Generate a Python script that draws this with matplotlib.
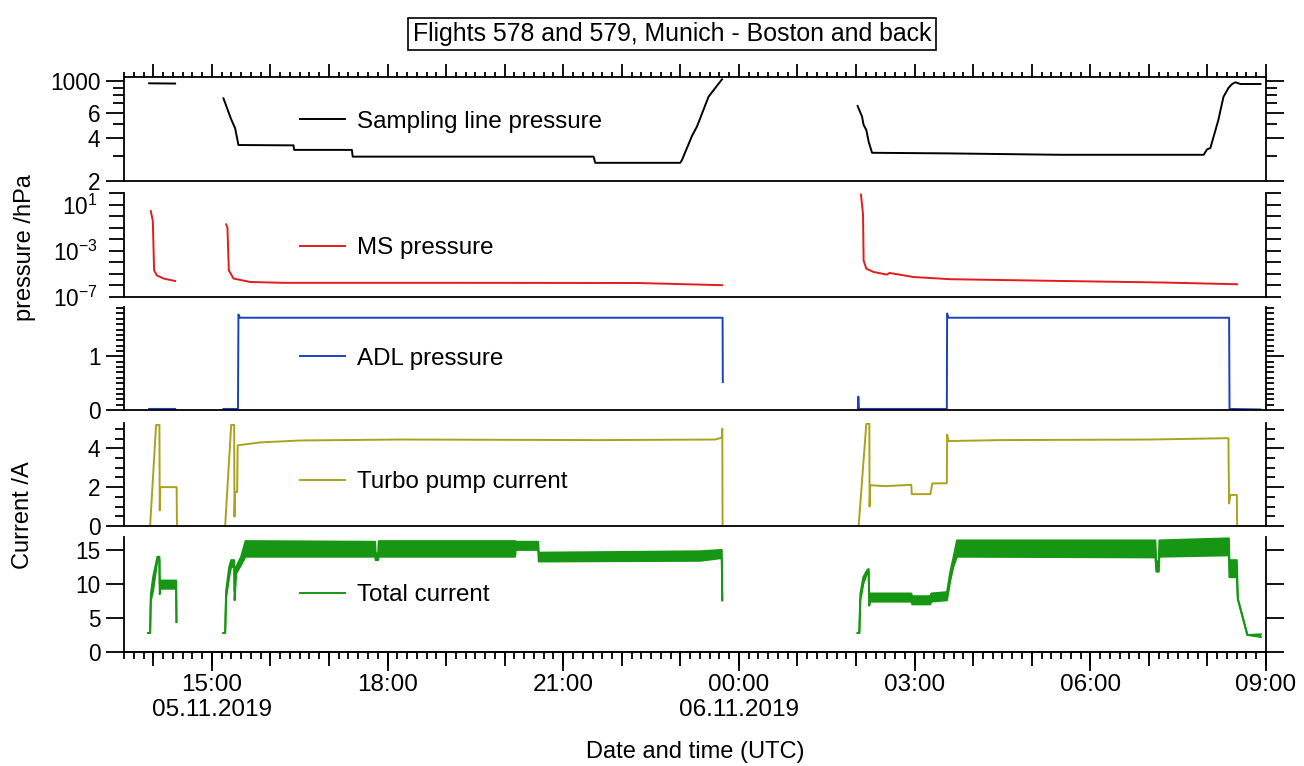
import numpy as np
import matplotlib
matplotlib.use("Agg")
import matplotlib.pyplot as plt
from matplotlib.ticker import MultipleLocator, NullLocator, NullFormatter

nan = np.nan

# ---- time axis: hours since 2019-11-05 00:00 UTC ----
xtick_hours = [15, 18, 21, 24, 27, 30, 33]
xtick_labels = ["15:00\n05.11.2019", "18:00", "21:00", "00:00\n06.11.2019",
                "03:00", "06:00", "09:00"]

# ---- Sampling line pressure (hPa) ----
samp_t = [13.929, 14.373, nan,
          15.198, 15.330, 15.398, 15.454, 16.394, 16.406, 17.391, 17.405,
          21.518, 21.547, 22.998, 23.027, 23.198, 23.283, 23.482, 23.711, nan,
          26.027, 26.102, 26.129, 26.175, 26.215, 26.273, 27.553, 29.488,
          31.936, 31.994, 32.050, 32.187, 32.273, 32.358, 32.421, 32.478,
          32.563, 32.905]
samp_p = [964, 960, nan,
          757, 540, 467, 357, 355, 330, 330, 296,
          296, 268, 268, 280, 413, 480, 778, 1028, nan,
          669, 564, 493, 455, 377, 315, 312, 305,
          305, 333, 340, 535, 773, 894, 953, 980,
          953, 953]

# ---- MS pressure (hPa) ----
ms_t = [13.958, 13.992, 14.014, 14.060, 14.173, 14.373, nan,
        15.244, 15.266, 15.290, 15.369, 15.654, 16.218, 19.070, 22.259, 23.711, nan,
        26.084, 26.119, 26.129, 26.175, 26.300, 26.529, 26.573, 26.983,
        27.610, 29.540, 31.248, 32.507]
ms_p = [2.7, 0.37, 1.95e-5, 7.2e-6, 3.8e-6, 2.3e-6, nan,
        0.19, 0.1, 1.95e-5, 3.8e-6, 1.9e-6, 1.6e-6, 1.6e-6, 1.55e-6, 1.0e-6, nan,
        72, 1.4, 1.4e-4, 2.7e-5, 1.4e-5, 8.3e-6, 1.15e-5, 5.1e-6,
        3.3e-6, 2.3e-6, 1.7e-6, 1.2e-6]

# ---- ADL pressure (hPa) ----
adl_t = [13.929, 14.373, nan,
         15.198, 15.446, 15.454, 15.480, 23.721, 23.725, nan,
         26.030, 26.039, 26.050, 27.550, 27.555, 27.575, 32.370, 32.377, 32.905]
adl_p = [0.02, 0.02, nan,
         0.02, 0.02, 1.78, 1.72, 1.72, 0.52, nan,
         0.02, 0.25, 0.02, 0.02, 1.80, 1.72, 1.72, 0.02, 0.01]

# ---- Turbo pump current (A) ----
turbo_t = [13.946, 14.048, 14.105, 14.110, 14.120, 14.399, 14.404, nan,
           15.227, 15.330, 15.381, 15.386, 15.398, 15.432, 15.441, 15.825,
           16.508, 18.216, 21.632, 23.596, 23.707, 23.716, 23.721, nan,
           26.044, 26.175, 26.227, 26.231, 26.243, 26.499, 26.943, 26.952,
           27.268, 27.302, 27.550, 27.555, 27.575, 28.463, 31.025, 32.358,
           32.370, 32.391, 32.502, 32.507, 32.905]
turbo_a = [0, 5.2, 5.2, 0.8, 2.0, 2.0, 0, nan,
           0, 5.2, 5.2, 0.48, 1.75, 1.75, 4.15, 4.3,
           4.4, 4.45, 4.42, 4.45, 4.55, 5.0, 0, nan,
           0, 5.26, 5.26, 1.0, 2.1, 2.05, 2.12, 1.64,
           1.64, 2.19, 2.2, 4.7, 4.37, 4.42, 4.45, 4.52,
           1.16, 1.59, 1.6, 0, 0]

# ---- Total current (A): lower / upper envelope of the noisy signal ----
tot_t = [13.912, 13.946, 13.958, 13.997, 14.071, 14.105, 14.110, 14.125, 14.390, 14.396, nan,
         15.198, 15.227, 15.244, 15.296, 15.330, 15.381, 15.389, 15.415, 15.500, 15.575,
         17.789, 17.797, 17.840, 17.849, 20.180, 20.189, 20.573, 20.582, 23.340, 23.707,
         23.716, nan,
         26.027, 26.056, 26.073, 26.124, 26.187, 26.215, 26.224, 26.243, 26.943, 26.960,
         27.268, 27.285, 27.553, 27.610, 27.661, 27.724, 31.111, 31.128, 31.170, 31.179,
         32.366, 32.375, 32.502, 32.519, 32.682, 32.913]
tot_lo = [2.8, 2.8, 7.5, 9, 13.5, 13.5, 8.5, 9.3, 9.3, 4.4, nan,
          2.8, 2.8, 8, 11, 12.5, 12.5, 7.6, 11.5, 12.8, 14,
          14, 13.5, 13.5, 14, 14, 15, 15, 13.3, 13.4, 13.8,
          7.6, nan,
          2.8, 2.8, 7.5, 10, 11.5, 11.8, 6.8, 7.4, 7.4, 7.0,
          7.0, 7.4, 7.6, 10.5, 12.5, 14, 13.9, 11.8, 11.8, 14,
          14.2, 11, 11, 7.8, 2.5, 2.2]
tot_hi = [2.8, 2.8, 8.5, 11, 14, 14, 10, 10.5, 10.5, 4.4, nan,
          2.8, 2.8, 9, 12.5, 13.5, 13.5, 9, 12.5, 14, 16.3,
          16.2, 14.5, 14.5, 16.3, 16.3, 16.2, 16.2, 14.6, 14.8, 15,
          7.6, nan,
          2.8, 2.8, 8.5, 11, 12, 12.2, 8, 8.6, 8.6, 8.2,
          8.2, 8.6, 8.8, 11.8, 13.8, 16.4, 16.4, 13, 13.5, 16.4,
          16.7, 13.5, 13.5, 7.8, 2.5, 2.6]

# ---------------- style ----------------
plt.rcParams['font.family'] = ['Liberation Sans', 'DejaVu Sans']
plt.rcParams['mathtext.fontset'] = 'custom'
plt.rcParams['mathtext.rm'] = 'Liberation Sans'
plt.rcParams['mathtext.it'] = 'Liberation Sans:italic'
plt.rcParams['mathtext.bf'] = 'Liberation Sans:bold'

C_SAMP = '#000000'
C_MS = '#e31b1b'
C_ADL = '#1c40c0'
C_TURBO = '#a9a31c'
C_TOT = '#179614'
LW = 1.3
DLW = 1.4
FS_YTICK = 16.3
FS_XTICK = 17.5
FS_LEG = 17.4
FS_LABEL = 17
FS_TITLE = 17.9

W, H = 1304, 766
fig = plt.figure(figsize=(W / 100, H / 100), dpi=100)
XL, XR = 124, 1266


def px_axes(top, bottom):
    return fig.add_axes([XL / W, 1 - bottom / H, (XR - XL) / W, (bottom - top) / H])


def style(ax, top_spine=False):
    for s in ['left', 'right', 'bottom', 'top']:
        ax.spines[s].set_linewidth(LW)
    ax.spines['top'].set_visible(top_spine)
    ax.set_xlim(13.5, 33.0)
    ax.tick_params(axis='y', which='both', left=True, right=True, direction='out',
                   width=LW, labelsize=FS_YTICK, pad=4)
    ax.tick_params(axis='x', which='both', bottom=False, top=False,
                   labelbottom=False, labeltop=False)


def legend(ax, yfrac):
    ax.legend(loc='center left', bbox_to_anchor=(0.154, yfrac), frameon=False,
              handlelength=1.86, handletextpad=0.49, borderpad=0, borderaxespad=0,
              fontsize=FS_LEG)


# Panel 1: sampling line pressure
ax1 = px_axes(77, 181)
style(ax1, top_spine=True)
ax1.plot(samp_t, samp_p, color=C_SAMP, lw=DLW, label='Sampling line pressure')
ax1.set_yscale('log')
ax1.set_ylim(200, 1067)
ax1.set_yticks([200, 400, 600, 1000], labels=['2', '4', '6', '1000'])
ax1.set_yticks([300, 500, 700, 800, 900], minor=True)
ax1.yaxis.set_minor_formatter(NullFormatter())
ax1.tick_params(axis='y', which='major', length=13)
ax1.tick_params(axis='y', which='minor', length=8)
ax1.xaxis.set_major_locator(MultipleLocator(1))
ax1.xaxis.set_minor_locator(MultipleLocator(1 / 6))
ax1.tick_params(axis='x', which='both', top=True, direction='out', width=LW)
ax1.tick_params(axis='x', which='major', length=9.5)
ax1.tick_params(axis='x', which='minor', length=3.6)
legend(ax1, 0.57)

# Panel 2: MS pressure
ax2 = px_axes(193, 296.7)
style(ax2)
ax2.plot(ms_t, ms_p, color=C_MS, lw=DLW, label='MS pressure')
ax2.set_yscale('log')
ax2.set_ylim(1e-7, 1e2)
ax2.set_yticks([1e-7, 1e-3, 1e1], labels=['10$^{-7}$', '10$^{-3}$', '10$^{1}$'])
ax2.set_yticks([1e-6, 1e-5, 1e-4, 1e-2, 1e-1, 1e0, 1e2], minor=True)
ax2.yaxis.set_minor_formatter(NullFormatter())
ax2.tick_params(axis='y', which='both', length=11)
ax2.tick_params(axis='y', which='major', pad=8)
legend(ax2, 0.467)

# Panel 3: ADL pressure
ax3 = px_axes(307, 410)
style(ax3)
ax3.plot(adl_t, adl_p, color=C_ADL, lw=DLW, label='ADL pressure')
ax3.set_ylim(0, 1.92)
ax3.set_yticks([0, 1])
ax3.yaxis.set_minor_locator(MultipleLocator(0.1))
ax3.tick_params(axis='y', which='major', length=13)
ax3.tick_params(axis='y', which='minor', length=6)
legend(ax3, 0.50)

# Panel 4: turbo pump current
ax4 = px_axes(423, 526)
style(ax4)
ax4.plot(turbo_t, turbo_a, color=C_TURBO, lw=DLW, label='Turbo pump current')
ax4.set_ylim(0, 5.3)
ax4.set_yticks([0, 2, 4])
ax4.yaxis.set_minor_locator(MultipleLocator(0.5))
ax4.tick_params(axis='y', which='major', length=13)
ax4.tick_params(axis='y', which='minor', length=6.5)
legend(ax4, 0.424)

# Panel 5: total current
ax5 = px_axes(537, 652)
style(ax5)
ax5.fill_between(tot_t, tot_lo, tot_hi, color=C_TOT, lw=0)
ax5.plot(tot_t, tot_lo, color=C_TOT, lw=DLW, label='Total current')
ax5.plot(tot_t, tot_hi, color=C_TOT, lw=DLW)
ax5.set_ylim(0, 16.9)
ax5.set_yticks([0, 5, 10, 15])
ax5.yaxis.set_minor_locator(NullLocator())
ax5.tick_params(axis='y', which='major', length=13)
legend(ax5, 0.496)

ax5.set_xticks(xtick_hours, labels=xtick_labels)
ax5.xaxis.set_minor_locator(MultipleLocator(1 / 6))
ax5.tick_params(axis='x', which='both', bottom=True, direction='out', width=LW)
ax5.tick_params(axis='x', which='major', length=13.5, labelbottom=True,
                labelsize=FS_XTICK, pad=2)
ax5.tick_params(axis='x', which='minor', length=5)

sec = ax5.secondary_xaxis('bottom')
sec.set_xticks(np.arange(14, 34))
sec.xaxis.set_minor_locator(NullLocator())
sec.tick_params(axis='x', which='major', length=10, width=LW, direction='out',
                labelbottom=False)
sec.spines['bottom'].set_linewidth(LW)

# Labels & title
fig.text(25 / W, 1 - 248 / H, 'pressure /hPa', rotation=90, ha='center', va='center',
         fontsize=FS_LABEL)
fig.text(23 / W, 1 - 515 / H, 'Current /A', rotation=90, ha='center', va='center',
         fontsize=FS_LABEL)
fig.text(695 / W, 1 - 752 / H, 'Date and time (UTC)', ha='center', va='center',
         fontsize=FS_LABEL)
fig.text(672 / W, 1 - 34 / H, 'Flights 578 and 579, Munich - Boston and back',
         ha='center', va='center', fontsize=FS_TITLE,
         bbox=dict(boxstyle='square,pad=0.18', fc='white', ec='black', lw=1.2))

fig.savefig('out.png', dpi=100)
